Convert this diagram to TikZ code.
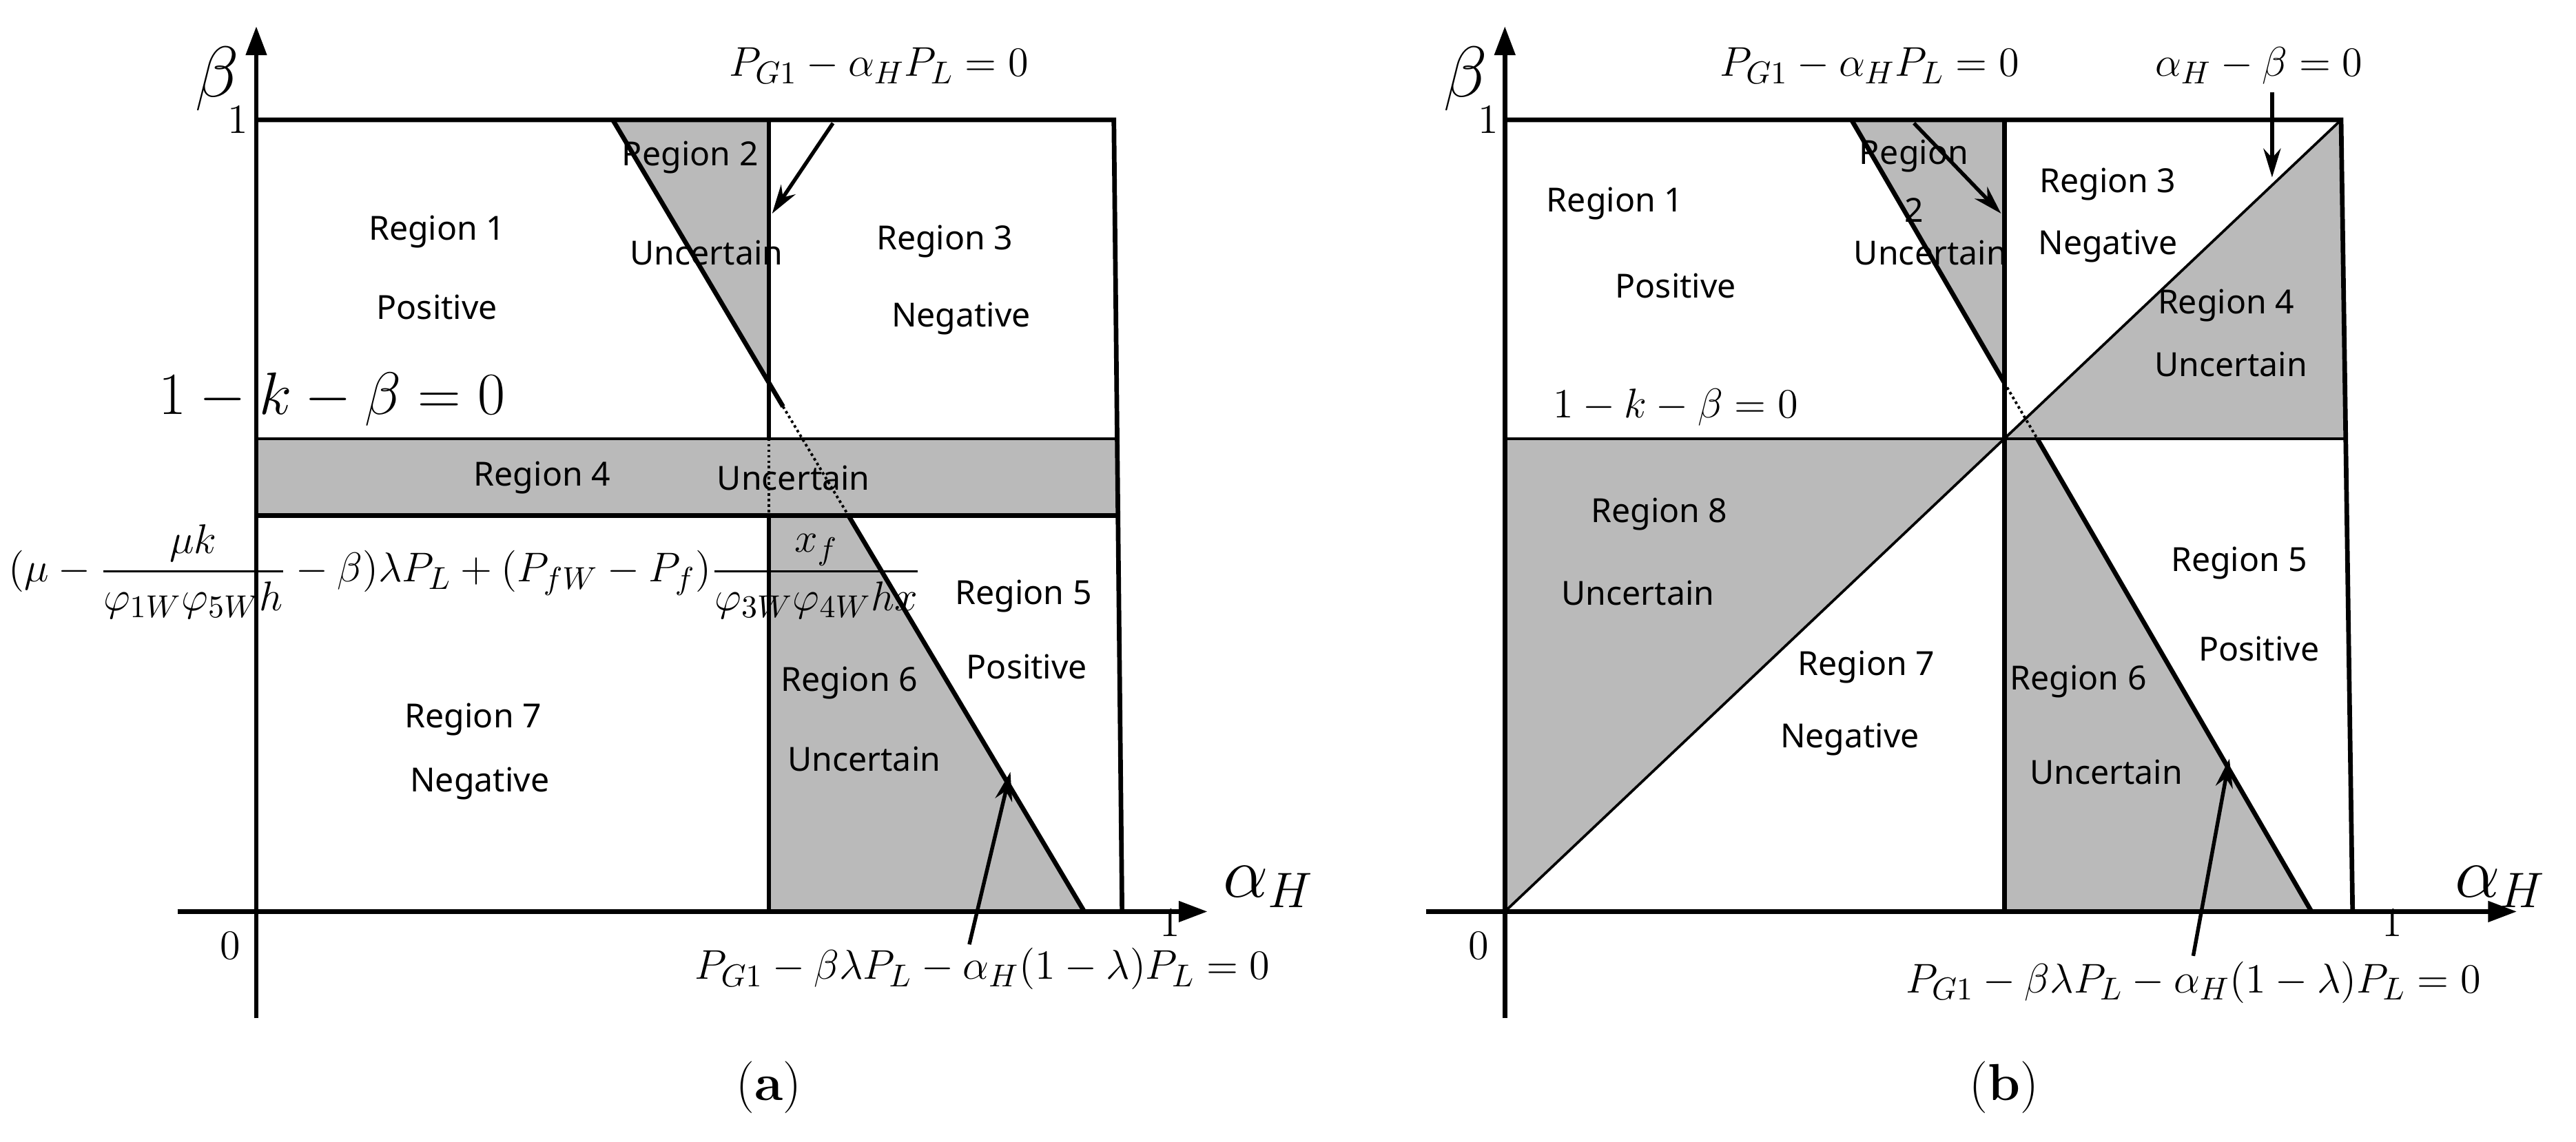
\documentclass[tikz,border=0pt]{standalone}
\usepackage{amsmath}
\usepackage{fontspec}
\newfontfamily\regfont{Noto Sans}
\usetikzlibrary{arrows.meta}
\begin{document}
\begin{tikzpicture}[x=0.02cm,y=-0.02cm,
  ln/.style={line width=1.6pt},
  thin/.style={line width=0.9pt},
  gr/.style={fill=black!27},
  ax/.style={line width=1.6pt,-{Triangle[length=10pt,width=7pt]}},
  pt/.style={line width=1.3pt,-{Stealth[length=10pt,width=6pt]}},
  reg/.style={font=\regfont\fontsize{11.5}{14}\selectfont},
  eq/.style={font=\fontsize{15}{17}\selectfont},
  big/.style={font=\fontsize{24}{28}\selectfont}]
\useasboundingbox (0,0) rectangle (1568,695);
% ---------- panel (a)
\fill[gr] (373,73) -- (468,73) -- (468,232.5) -- cycle;
\fill[gr] (156,267) rectangle (680,314);
\fill[gr] (468,314) -- (516.5,314) -- (660,555) -- (468,555) -- cycle;
\draw[ln] (156,73) -- (678,73) -- (683,555);
\draw[thin] (156,267) -- (680,267);
\draw[ln] (156,314) -- (681,314);
\draw[ln] (468,73) -- (468,267);
\draw[thin,densely dotted] (468,267) -- (468,314);
\draw[ln] (468,314) -- (468,555);
\draw[ln] (373,73) -- (476.6,247.5);
\draw[thin,densely dotted] (476.6,247.5) -- (516.5,314);
\draw[ln] (516.5,314) -- (660,555);
\draw[ax] (108,555) -- (735,555);
\draw[ax] (156,620) -- (156,16);
\node[big] (ba) at (132,48) {$\beta$};
\node[big] (aa) at (772,540) {$\alpha_H$};
\node[eq] (oa1) at (145,73) {$1$};
\node[eq] (za) at (140,576) {$0$};
\node[eq] (xa1) at (712,562) {$1$};
\node[eq,font=\fontsize{20}{22}\selectfont] (ka) at (202,243) {$1-k-\beta=0$};
\node[eq] (la) at (283,348) {$(\mu-\dfrac{\mu k}{\varphi_{1W}\varphi_{5W}h}-\beta)\lambda P_L+(P_{fW}-P_f)\dfrac{x_f}{\varphi_{3W}\varphi_{4W}hx}$};
\node[eq] (pga) at (535,40) {$P_{G1}-\alpha_H P_L=0$};
\node[eq] (pgba) at (598,590) {$P_{G1}-\beta\lambda P_L-\alpha_H(1-\lambda)P_L=0$};
\coordinate (pga1) at (507,75); \coordinate (pga2) at (470,130);
\draw[pt] (pga1) -- (pga2);
\coordinate (pgba1) at (590,575); \coordinate (pgba2) at (615,470);
\draw[pt] (pgba1) -- (pgba2);
\node[reg] (a1) at (266,141) {Region 1};
\node[reg] (a1p) at (266,187) {Positive};
\node[reg] (a2) at (420,96) {Region 2};
\node[reg] (a2u) at (430,154) {Uncertain};
\node[reg] (a3) at (575,147) {Region 3};
\node[reg] (a3n) at (585,194) {Negative};
\node[reg] (a4) at (330,291) {Region 4};
\node[reg] (a4u) at (483,291) {Uncertain};
\node[reg] (a5) at (623,363) {Region 5};
\node[reg] (a5p) at (625,406) {Positive};
\node[reg] (a6) at (517,416) {Region 6};
\node[reg] (a6u) at (526,462) {Uncertain};
\node[reg] (a7) at (288,438) {Region 7};
\node[reg] (a7n) at (292,477) {Negative};
\node[eq,font=\fontsize{18}{20}\selectfont] (capa) at (468,662) {(\textbf{a})};
% ---------- panel (b)
\fill[gr] (1127,73) -- (1220,73) -- (1220,233) -- cycle;
\fill[gr] (1220,267) -- (1425,73) -- (1428,267) -- cycle;
\fill[gr] (916,267) -- (1220,267) -- (916,555) -- cycle;
\fill[gr] (1220,267) -- (1240,267) -- (1407,555) -- (1220,555) -- cycle;
\draw[ln] (916,73) -- (1425,73) -- (1432,555);
\draw[thin] (916,267) -- (1428,267);
\draw[ln] (1220,73) -- (1220,555);
\draw[ln] (1127,73) -- (1220,233);
\draw[thin,densely dotted] (1220,233) -- (1240,267);
\draw[ln] (1240,267) -- (1407,555);
\draw[thin] (916,555) -- (1425,73);
\draw[ax] (868,555) -- (1532,555);
\draw[ax] (916,620) -- (916,16);
\node[big] (bb) at (892,48) {$\beta$};
\node[big] (ab) at (1522,540) {$\alpha_H$};
\node[eq] (ob1) at (906,73) {$1$};
\node[eq] (zb) at (900,576) {$0$};
\node[eq] (xb1) at (1456,562) {$1$};
\node[eq] (kb) at (1020,248) {$1-k-\beta=0$};
\node[eq] (pgb) at (1138,40) {$P_{G1}-\alpha_H P_L=0$};
\node[eq] (abz) at (1375,40) {$\alpha_H-\beta=0$};
\node[eq] (pgbb) at (1335,598) {$P_{G1}-\beta\lambda P_L-\alpha_H(1-\lambda)P_L=0$};
\coordinate (pgb1) at (1165,75); \coordinate (pgb2) at (1218,130);
\draw[pt] (pgb1) -- (pgb2);
\coordinate (abz1) at (1383,56); \coordinate (abz2) at (1383,108);
\draw[pt] (abz1) -- (abz2);
\coordinate (pgbb1) at (1335,582); \coordinate (pgbb2) at (1357,462);
\draw[pt] (pgbb1) -- (pgbb2);
\node[reg] (b1) at (983,124) {Region 1};
\node[reg] (b1p) at (1020,174) {Positive};
\node[reg] (b2) at (1165,95) {Region};
\node[reg] (b2n) at (1165,128) {2};
\node[reg] (b2u) at (1175,154) {Uncertain};
\node[reg] (b3) at (1283,112) {Region 3};
\node[reg] (b3n) at (1283,150) {Negative};
\node[reg] (b4) at (1355,186) {Region 4};
\node[reg] (b4u) at (1358,222) {Uncertain};
\node[reg] (b5) at (1363,343) {Region 5};
\node[reg] (b5p) at (1375,395) {Positive};
\node[reg] (b6) at (1265,415) {Region 6};
\node[reg] (b6u) at (1282,470) {Uncertain};
\node[reg] (b7) at (1136,406) {Region 7};
\node[reg] (b7n) at (1126,450) {Negative};
\node[reg] (b8) at (1010,313) {Region 8};
\node[reg] (b8u) at (997,361) {Uncertain};
\node[eq,font=\fontsize{18}{20}\selectfont] (capb) at (1220,662) {(\textbf{b})};
\end{tikzpicture}
\end{document}
